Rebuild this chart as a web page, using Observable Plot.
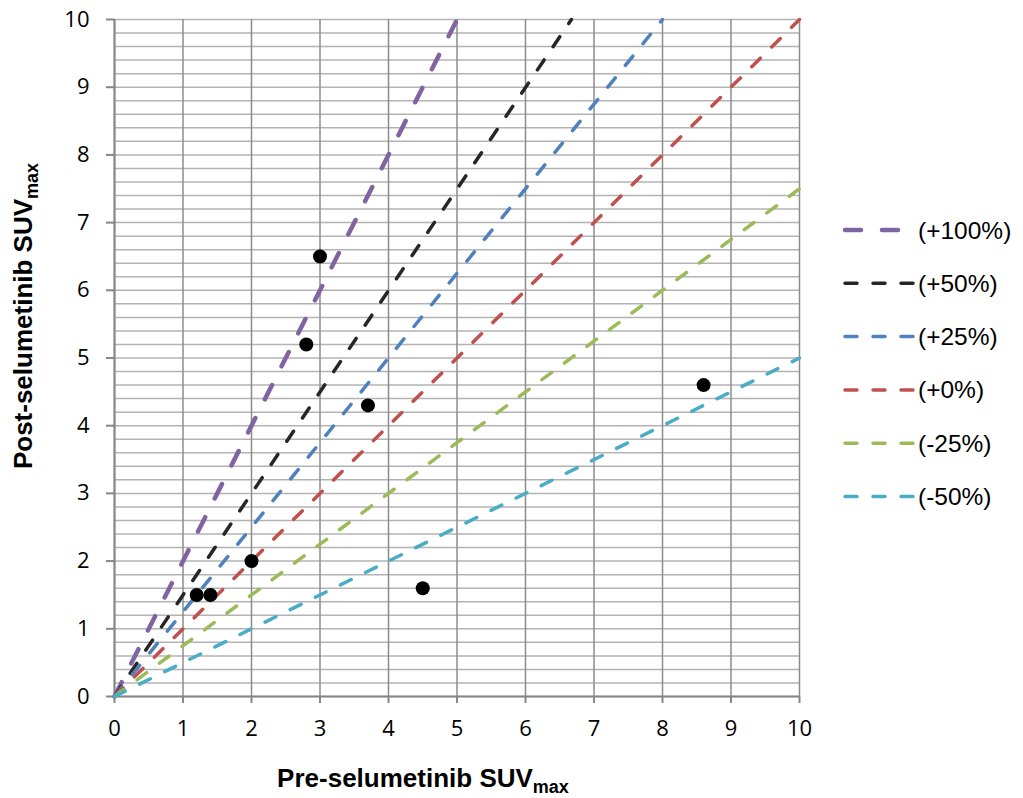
<!DOCTYPE html>
<html><head><meta charset="utf-8">
<script src="https://cdn.jsdelivr.net/npm/d3@7"></script>
<script src="https://cdn.jsdelivr.net/npm/@observablehq/plot@0.6"></script>
<style>
body{margin:0;background:#fff}
#wrap{position:relative;width:1023px;height:798px}
#wrap svg{position:absolute;left:0;top:0}
</style>
</head><body><div id="wrap"></div>
<script>
// Measured tumours: pre- vs post-selumetinib SUVmax
const preSUV  = [1.2, 1.4, 2.0, 2.8, 3.0, 3.7, 4.5, 8.6];
const postSUV = [1.5, 1.5, 2.0, 5.2, 6.5, 4.3, 1.6, 4.6];

// Reference change lines (start and end points)
const seriesNames  = ["(+100%)", "(+50%)", "(+25%)", "(+0%)", "(-25%)", "(-50%)"];
const seriesColors = ["#8064A2", "#262626", "#4F81BD", "#C0504D", "#9BBB59", "#4BACC6"];
const lineStartX = [0, 0, 0, 0, 0, 0];
const lineStartY = [0, 0, 0, 0, 0, 0];
const lineEndX   = [5, 6.67, 8, 10, 10, 10];
const lineEndY   = [10, 10, 10, 10, 7.5, 5];

// Tick labels / grid
const xTicks = [0, 1, 2, 3, 4, 5, 6, 7, 8, 9, 10];
const yTicks = [0, 1, 2, 3, 4, 5, 6, 7, 8, 9, 10];
const yGridTicks = d3.range(0, 51).map(i => i / 5);

const points = preSUV.map((x, i) => ({x, y: postSUV[i]}));

const lineMarks = seriesNames.map((name, i) => Plot.line(
  [{x: lineStartX[i], y: lineStartY[i]}, {x: lineEndX[i], y: lineEndY[i]}],
  {x: "x", y: "y", stroke: seriesColors[i],
   strokeWidth: i === 0 ? 4.5 : 3.5,
   strokeDasharray: i === 0 ? "16,21" : "12,16",
   strokeLinecap: "round"}
));

const chart = Plot.plot({
  width: 1023, height: 798,
  marginLeft: 114, marginRight: 224, marginTop: 19, marginBottom: 102,
  x: {domain: [0, 10]},
  y: {domain: [0, 10]},
  style: {fontFamily: "'Open Sans', sans-serif", fontSize: "22px", color: "#000", background: "#fff"},
  marks: [
    Plot.gridY(yGridTicks, {stroke: "#b3b3b3", strokeOpacity: 1, strokeWidth: 1.5}),
    Plot.gridX(xTicks, {stroke: "#8c8c8c", strokeOpacity: 1, strokeWidth: 1.5}),
    Plot.axisY(yTicks, {tickSize: 8, tickPadding: 17, stroke: "#868686", strokeWidth: 2, label: null, tickFormat: d => String(d)}),
    Plot.axisX(xTicks, {tickSize: 7, tickPadding: 17, stroke: "#868686", strokeWidth: 2, label: null, tickFormat: d => String(d)}),
    Plot.ruleY([0], {stroke: "#868686", strokeWidth: 2}),
    Plot.ruleX([0], {stroke: "#868686", strokeWidth: 2}),
    ...lineMarks,
    Plot.dot(points, {x: "x", y: "y", r: 7, fill: "#000"})
  ]
});
document.getElementById("wrap").appendChild(chart);

// Overlay: axis titles with subscripts and legend
const ov = d3.select("#wrap").append("svg")
  .attr("width", 1023).attr("height", 798)
  .style("pointer-events", "none")
  .style("font-family", "'Liberation Sans', Arial, sans-serif");

const xt = ov.append("text").attr("x", 423).attr("y", 787)
  .attr("text-anchor", "middle").attr("font-weight", "bold").attr("font-size", 26);
xt.append("tspan").text("Pre-selumetinib SUV");
xt.append("tspan").attr("font-size", 18).attr("dy", 6).text("max");

const yt = ov.append("text").attr("transform", "translate(32,316) rotate(-90)")
  .attr("text-anchor", "middle").attr("font-weight", "bold").attr("font-size", 26);
yt.append("tspan").text("Post-selumetinib SUV");
yt.append("tspan").attr("font-size", 18).attr("dy", 6).text("max");

const lg = ov.append("g");
seriesNames.forEach((name, i) => {
  const cy = 230 + i * 53.3;
  lg.append("line").attr("x1", 845).attr("x2", 915).attr("y1", cy).attr("y2", cy)
    .attr("stroke", seriesColors[i])
    .attr("stroke-width", i === 0 ? 4.5 : 3.5)
    .attr("stroke-dasharray", i === 0 ? "16,21" : "12,16")
    .attr("stroke-linecap", "round");
  lg.append("text").attr("x", 918).attr("y", cy).attr("dy", "0.35em")
    .attr("font-size", 24.5).text(name);
});
</script>
</body></html>
